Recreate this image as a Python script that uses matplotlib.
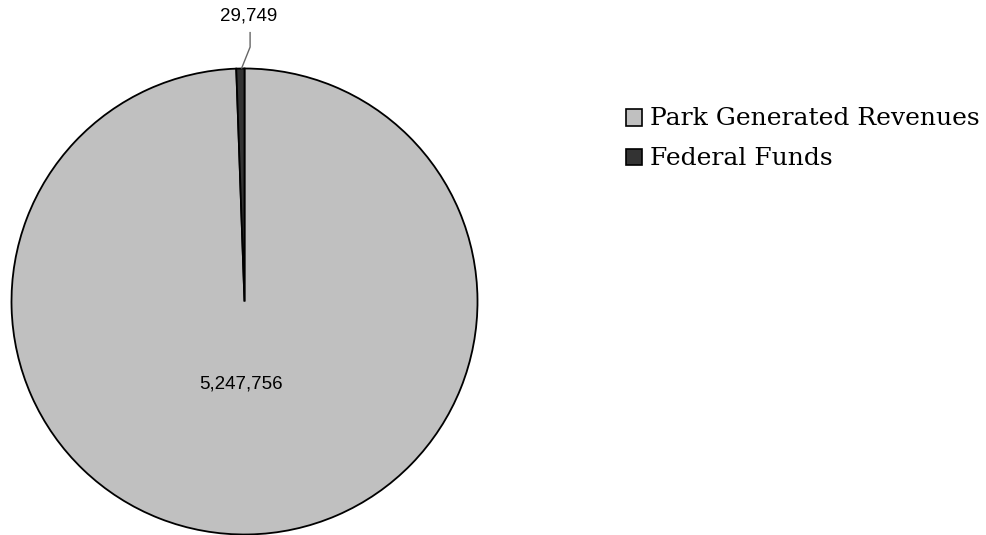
import matplotlib.pyplot as plt
from matplotlib.patches import Rectangle

labels = ["Park Generated Revenues", "Federal Funds"]
values = [5247756, 29749]
colors = ["#c0c0c0", "#333333"]

W, H = 987, 535
fig = plt.figure(figsize=(W / 100, H / 100), dpi=100)

# pie axes: center (244.5, 301.5) px from top, radius 233 px
cx, cy, r = 244.5, H - 301.5, 233
ax = fig.add_axes([(cx - r) / W, (cy - r) / H, 2 * r / W, 2 * r / H])

wedges, _ = ax.pie(values, colors=colors, startangle=90, counterclock=False,
                   wedgeprops=dict(edgecolor="black", linewidth=1.3))
ax.set_xlim(-1, 1)
ax.set_ylim(-1, 1)
ax.axis("off")
for w in wedges:
    w.set_clip_on(False)

num_font = dict(family="Liberation Sans", fontsize=13.5, color="black")
ax.text(-0.013, -0.354, f"{values[0]:,}", ha="center", va="center", **num_font)
ax.text(0.019, 1.225, f"{values[1]:,}", ha="center", va="center", clip_on=False, **num_font)
ax.plot([0.024, 0.024, -0.012], [1.154, 1.092, 1.002], color="#666666", lw=1, clip_on=False)

# legend
def px(x, y):
    return x / W, 1 - y / H

for i, (lab, col) in enumerate(zip(labels, colors)):
    yc = 117.5 + i * 40
    fig.patches.append(Rectangle(px(626, yc + 8), 16 / W, 16 / H, transform=fig.transFigure,
                                 facecolor=col, edgecolor="black", lw=1.2))
    fig.text(*px(650, yc + 1), lab, ha="left", va="center",
             family="DejaVu Serif", fontsize=18, color="black")

fig.savefig("out.png", dpi=100)
